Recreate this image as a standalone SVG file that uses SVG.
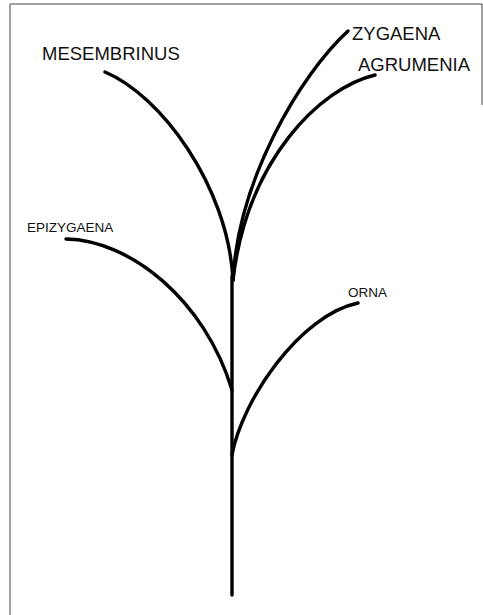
<svg xmlns="http://www.w3.org/2000/svg" width="483" height="615" viewBox="0 0 483 615">
<style>
.lbl{font-family:"Liberation Sans",Arial,sans-serif;fill:#111}
.big{font-size:18.5px}
.small{font-size:13.5px}
.br{fill:none;stroke:#000;stroke-width:3.4;stroke-linecap:round}
.frame{fill:none;stroke:#444;stroke-width:1}
</style>
<rect width="483" height="615" fill="#fff"/>
<g id="frame">
<path class="frame" d="M10,615 V4 H482 V105"/>
</g>
<g id="connectors">
<path class="br" d="M232,276 V595"/>
<path class="br" d="M105,72 C160,95 228,185 233,280"/>
<path class="br" d="M348,31 C300,75 238,180 233,280"/>
<path class="br" d="M375,75 C320,88 247,160 233,280"/>
<path class="br" d="M66,239 C130,240 205,300 232,390"/>
<path class="br" d="M358,303 C300,315 242,400 232,455"/>
</g>
<g id="mesembrinus"><text class="lbl big" x="42" y="60">MESEMBRINUS</text></g>
<g id="zygaena"><text class="lbl big" x="352" y="40">ZYGAENA</text></g>
<g id="agrumenia"><text class="lbl big" x="358" y="71">AGRUMENIA</text></g>
<g id="epizygaena"><text class="lbl small" x="27" y="232">EPIZYGAENA</text></g>
<g id="orna"><text class="lbl small" x="348" y="297">ORNA</text></g>
</svg>
